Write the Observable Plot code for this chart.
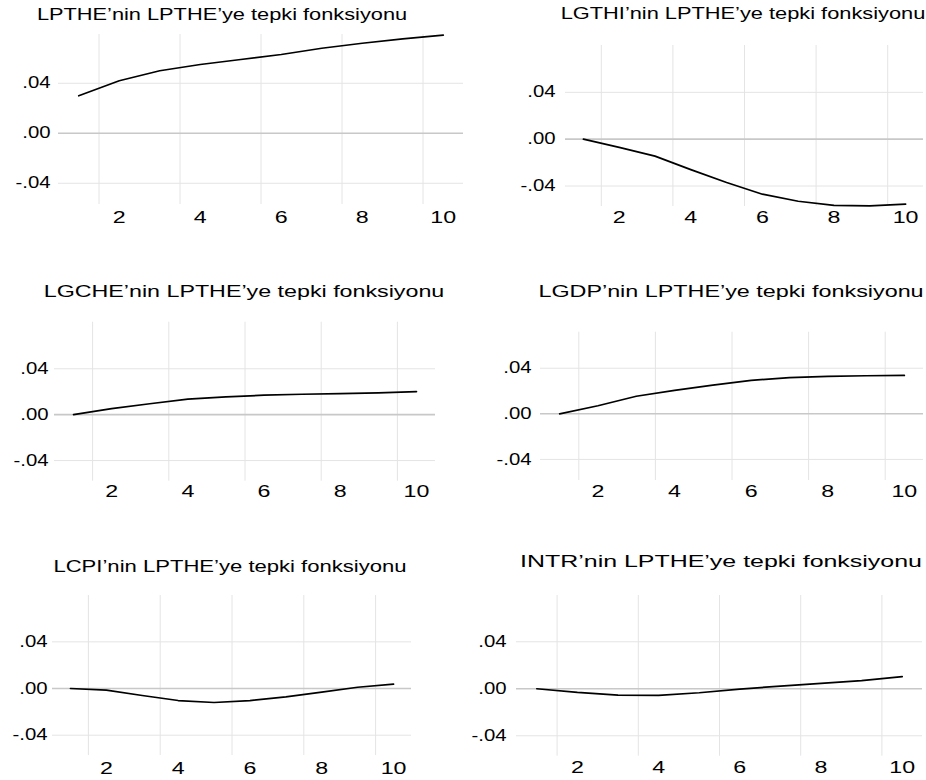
<!DOCTYPE html>
<html><head><meta charset="utf-8">
<script src="https://cdn.jsdelivr.net/npm/d3@7"></script>
<script src="https://cdn.jsdelivr.net/npm/@observablehq/plot@0.6"></script>
<style>
body{margin:0;background:#fff;}
#root{position:relative;width:926px;height:780px;overflow:hidden;background:#fff;font-family:"Liberation Sans",Arial,Helvetica,sans-serif;}
.title{position:absolute;font-size:16px;line-height:16px;white-space:nowrap;color:#000;}
.panel{position:absolute;}
</style></head><body><div id="root"></div>
<script>
// ---- data ----
const steps = [1, 2, 3, 4, 5, 6, 7, 8, 9, 10];
const titles = [
  "LPTHE\u2019nin LPTHE\u2019ye tepki fonksiyonu",
  "LGTHI\u2019nin LPTHE\u2019ye tepki fonksiyonu",
  "LGCHE\u2019nin LPTHE\u2019ye tepki fonksiyonu",
  "LGDP\u2019nin LPTHE\u2019ye tepki fonksiyonu",
  "LCPI\u2019nin LPTHE\u2019ye tepki fonksiyonu",
  "INTR\u2019nin LPTHE\u2019ye tepki fonksiyonu"
];
const lpthe = [0.030, 0.042, 0.050, 0.055, 0.059, 0.063, 0.068, 0.072, 0.0755, 0.0785];
const lgthi = [0.000, -0.007, -0.0145, -0.026, -0.037, -0.047, -0.053, -0.0565, -0.057, -0.0555];
const lgche = [0.000, 0.0052, 0.0095, 0.0135, 0.0155, 0.017, 0.0178, 0.0184, 0.019, 0.0201];
const lgdp  = [0.000, 0.0071, 0.0154, 0.0206, 0.0251, 0.0294, 0.0317, 0.0329, 0.0334, 0.0337];
const lcpi  = [0.000, -0.0014, -0.006, -0.0103, -0.012, -0.0103, -0.0071, -0.0031, 0.0011, 0.0037];
const intr  = [0.000, -0.0031, -0.0054, -0.0057, -0.0034, -0.0003, 0.0023, 0.0046, 0.0069, 0.0103];
const seriesList = [lpthe, lgthi, lgche, lgdp, lcpi, intr];

const xTickValues = [2, 4, 6, 8, 10];
const xGridValues = [1.5, 3.5, 5.5, 7.5, 9.5];
const yTickValues = [-0.04, 0, 0.04];
const yTickLabels = ["-.04", ".00", ".04"];

// ---- layout (positions / sizes) ----
const layout = [
  {left: 0,   top: 0,   width: 470, height: 230, mL: 58, mR: 7,  mT: 34,   mB: 26,   yDom: [-0.057, 0.079],   padX: 7,   padY: 8,  tX: 222,   tB: 20,  tW: 370},
  {left: 470, top: 0,   width: 456, height: 230, mL: 95, mR: 3,  mT: 45,   mB: 24,   yDom: [-0.0575, 0.080],  padX: 5,   padY: 10, tX: 742.5, tB: 19.5, tW: 365},
  {left: 0,   top: 270, width: 470, height: 240, mL: 54, mR: 35, mT: 51.7, mB: 29.3, yDom: [-0.058, 0.0806],  padX: 4.5, padY: 6,  tX: 243.8, tB: 297, tW: 401},
  {left: 470, top: 270, width: 456, height: 240, mL: 70, mR: 3,  mT: 61.7, mB: 30,   yDom: [-0.0585, 0.0716], padX: 5,   padY: 9,  tX: 730.5, tB: 297, tW: 385},
  {left: 0,   top: 540, width: 470, height: 240, mL: 52, mR: 59, mT: 55,   mB: 25,   yDom: [-0.0574, 0.0797], padX: 6.7, padY: 5,  tX: 229.5, tB: 572, tW: 353},
  {left: 470, top: 540, width: 456, height: 240, mL: 46, mR: 4,  mT: 55,   mB: 24.3, yDom: [-0.0574, 0.0794], padX: 5,   padY: 10, tX: 720.5, tB: 567, tW: 402}
];
const X_TICK_SX = 1.45;
const Y_TICK_SX = 1.27;
const FONT = "'Liberation Sans', Arial, Helvetica, sans-serif";

const root = document.getElementById("root");

function stretch(svg, selector, s) {
  svg.querySelectorAll(selector).forEach(t => {
    const w0 = t.getComputedTextLength();
    if (w0 > 0) {
      t.setAttribute("textLength", (w0 * s).toFixed(2));
      t.setAttribute("lengthAdjust", "spacingAndGlyphs");
    }
  });
}

layout.forEach((L, k) => {
  const data = steps.map((s, i) => ({step: s, value: seriesList[k][i]}));
  const svg = Plot.plot({
    width: L.width,
    height: L.height,
    marginLeft: L.mL, marginRight: L.mR, marginTop: L.mT, marginBottom: L.mB,
    style: {fontFamily: FONT, fontSize: "16px", color: "#000", background: "transparent", overflow: "visible"},
    x: {domain: [0.5, 10.5]},
    y: {domain: L.yDom},
    marks: [
      Plot.ruleX(xGridValues, {stroke: "#e4e4e4", strokeWidth: 1}),
      Plot.ruleY(yTickValues.filter(v => v !== 0), {stroke: "#e4e4e4", strokeWidth: 1}),
      Plot.ruleY([0], {stroke: "#c8c8c8", strokeWidth: 1.6}),
      Plot.axisX({ticks: xTickValues, tickSize: 0, tickPadding: L.padX, label: null, fontSize: 16, tickFormat: d => String(d)}),
      Plot.axisY({ticks: yTickValues, tickSize: 0, tickPadding: L.padY, label: null, fontSize: 16,
                  tickFormat: v => yTickLabels[yTickValues.findIndex(t => Math.abs(t - v) < 1e-9)]}),
      Plot.line(data, {x: "step", y: "value", stroke: "#000", strokeWidth: 1.7})
    ]
  });
  svg.classList.add("panel");
  svg.style.left = L.left + "px";
  svg.style.top = L.top + "px";
  svg.style.position = "absolute";
  root.appendChild(svg);
  stretch(svg, 'g[aria-label="x-axis tick label"] text', X_TICK_SX);
  stretch(svg, 'g[aria-label="y-axis tick label"] text', Y_TICK_SX);

  const title = document.createElement("div");
  title.className = "title";
  title.textContent = titles[k];
  title.style.left = L.tX + "px";
  title.style.top = (L.tB - 13.5) + "px";
  root.appendChild(title);
  const w = title.offsetWidth;
  const sx = L.tW / w;
  title.style.transform = `translateX(-50%) scaleX(${sx})`;
});
</script>
</body></html>
